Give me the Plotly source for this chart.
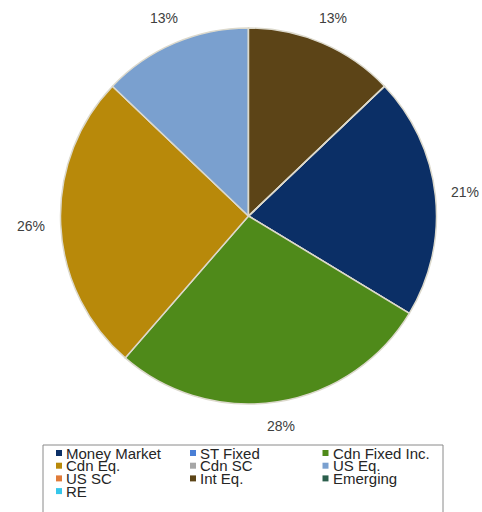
import math
import plotly.graph_objects as go

W, H = 482, 512

# Asset classes, in legend order
labels = ["Money Market", "ST Fixed", "Cdn Fixed Inc.", "Cdn Eq.", "Cdn SC",
          "US Eq.", "US SC", "Int Eq.", "Emerging", "RE"]
# Allocation (%)
values = [21, 0, 28, 26, 0, 13, 0, 13, 0, 0]
colors = ["#0b2f66", "#4a7fd6", "#4f8a1a", "#b8890a", "#a6a6a6",
          "#7aa0cf", "#e07b39", "#5c4417", "#2b5e4c", "#35c6ea"]

# Int Eq. is the last slice; rotate so that it begins at 12 o'clock
total = sum(values)
rotation = 360.0 * values[labels.index("Int Eq.")] / total

FONT = "Liberation Sans, Arial"


def px_x(x):
    return x / W


def px_y(y):
    return 1 - y / H


# Pie placement (pixels): centre and radius
cx, cy, r = 248.5, 216.0, 188.0

fig = go.Figure()
fig.add_trace(go.Pie(
    labels=labels,
    values=values,
    sort=False,
    direction="clockwise",
    rotation=rotation,
    marker=dict(colors=colors, line=dict(color="#dcd9cc", width=1.5)),
    textinfo="none",
    showlegend=False,
    hoverinfo="label+percent",
    domain=dict(x=[px_x(cx - r), px_x(cx + r)], y=[px_y(cy + r), px_y(cy - r)]),
))

annotations = []

# Percentage labels set outside each slice, at its mid angle
gap, half_w, half_h = 15, 14, 7
start = rotation
for lab, v in zip(labels, values):
    sweep = 360.0 * v / total
    if v > 0:
        mid = math.radians(start + sweep / 2)
        ux, uy = math.sin(mid), -math.cos(mid)
        d = r + gap + abs(ux) * half_w + abs(uy) * half_h
        annotations.append(dict(
            x=px_x(cx + d * ux), y=px_y(cy + d * uy), xref="paper", yref="paper",
            text=f"{round(100 * v / total)}%", showarrow=False,
            xanchor="center", yanchor="middle",
            font=dict(family=FONT, size=14, color="#404040")))
    start += sweep

# Legend: boxed, three columns
shapes = [dict(type="rect", xref="paper", yref="paper",
               x0=px_x(43), x1=px_x(443), y0=px_y(530), y1=px_y(445),
               line=dict(color="#8a8a8a", width=1), fillcolor="rgba(0,0,0,0)")]
col_x = [59, 193, 325.5]
row_y0, row_dy = 453, 12.7
for i, (lab, col) in enumerate(zip(labels, colors)):
    c, rr = i % 3, i // 3
    mx, my = col_x[c], row_y0 + rr * row_dy
    shapes.append(dict(type="rect", xref="paper", yref="paper",
                       x0=px_x(mx - 3), x1=px_x(mx + 3),
                       y0=px_y(my + 3), y1=px_y(my - 3),
                       line=dict(width=0), fillcolor=col))
    annotations.append(dict(x=px_x(mx + 5), y=px_y(my), xref="paper", yref="paper",
                            text=lab, showarrow=False, xanchor="left", yanchor="middle",
                            font=dict(family=FONT, size=15, color="#262626")))

fig.update_layout(
    width=W, height=H,
    margin=dict(l=0, r=0, t=0, b=0),
    paper_bgcolor="white", plot_bgcolor="white",
    shapes=shapes, annotations=annotations,
)

fig.write_html("out.html")
